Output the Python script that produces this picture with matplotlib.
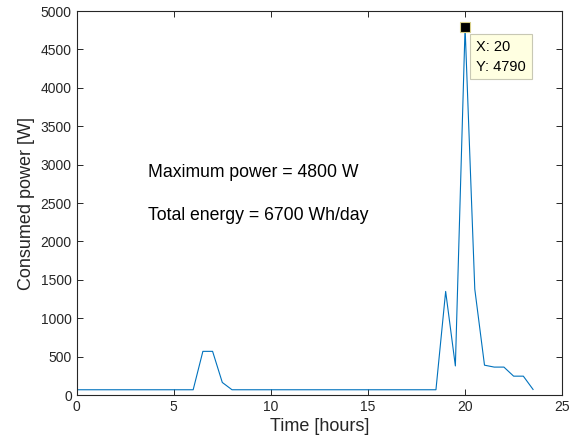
import numpy as np
import matplotlib.pyplot as plt

plt.rcParams['font.family'] = ['Liberation Sans', 'DejaVu Sans']

# half-hour load profile over one day
hours = np.arange(0, 24, 0.5)
power = np.array([
    70, 70, 70, 70, 70, 70, 70, 70, 70, 70, 70, 70,      # 0 - 5.5
    70, 570, 570, 165, 70, 70, 70, 70, 70, 70, 70, 70,   # 6 - 11.5
    70, 70, 70, 70, 70, 70, 70, 70, 70, 70, 70, 70,      # 12 - 17.5
    70, 70, 1350, 380, 4790, 1380, 390, 365, 365, 247, 247, 74,  # 18 - 23.5
])
peak_x = 20
peak_y = 4790
max_power = 4800
total_energy = 6700

dark = '#262626'

fig = plt.figure(figsize=(5.85, 4.48), dpi=100)
ax = fig.add_axes([0.131, 0.118, 0.83, 0.8574])

ax.plot(hours, power, color='#0072BD', lw=0.8)

# data tip on the peak
ax.plot(peak_x, peak_y, marker='s', ms=7, mfc='black', mec='#d8cf8a', mew=0.8,
        zorder=5, clip_on=False)
ax.annotate('X: %d\nY: %d' % (peak_x, peak_y), xy=(peak_x, peak_y),
            xytext=(11, -13), textcoords='offset pixels', ha='left', va='top',
            fontsize=10.5, color='black', linespacing=1.5,
            bbox=dict(boxstyle='square,pad=0.4', fc='#ffffe1', ec='#c8c8b4', lw=0.8))

ax.text(3.7, 2900, 'Maximum power = %d W' % max_power, fontsize=12.7, va='center')
ax.text(3.7, 2340, 'Total energy = %d Wh/day' % total_energy, fontsize=12.7, va='center')

ax.set_xlim(0, 25)
ax.set_ylim(0, 5000)
ax.set_xticks(np.arange(0, 26, 5))
ax.set_yticks(np.arange(0, 5001, 500))
ax.tick_params(direction='in', top=True, right=True, length=4.5, width=0.7,
               colors=dark, labelsize=10)
for s in ax.spines.values():
    s.set_color(dark)
    s.set_linewidth(0.8)

ax.set_xlabel('Time [hours]', fontsize=13, color=dark, labelpad=3)
ax.set_ylabel('Consumed power [W]', fontsize=13, color=dark, labelpad=4)

fig.savefig('out.png', dpi=100)
